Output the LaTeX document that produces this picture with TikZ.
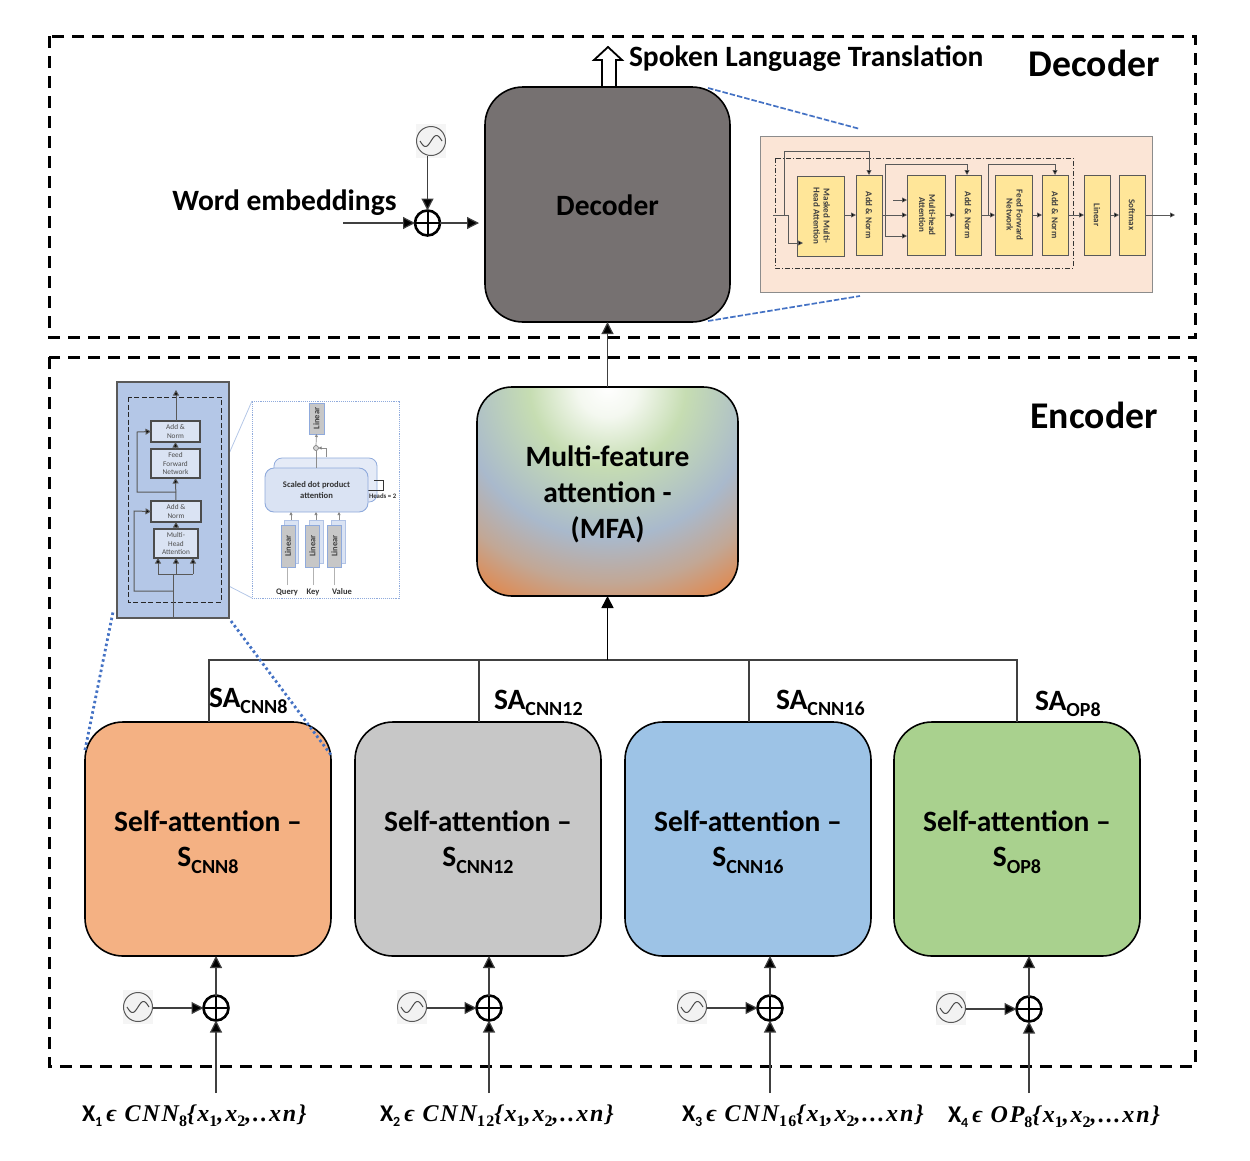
\documentclass[tikz,border=0pt]{standalone}
\usepackage{fontspec}
\setmainfont{Carlito}
\newfontfamily\mathbi{Liberation Serif}[BoldFont={* Bold},ItalicFont={* Italic},BoldItalicFont={* Bold Italic},LetterSpace=8]
\usetikzlibrary{arrows.meta,positioning,calc}
\definecolor{decgray}{HTML}{767171}
\definecolor{orangebox}{HTML}{F4B183}
\definecolor{graybox}{HTML}{C7C7C7}
\definecolor{bluebox}{HTML}{9DC3E6}
\definecolor{greenbox}{HTML}{A9D18E}
\definecolor{peach}{HTML}{FBE5D6}
\definecolor{yellowblk}{HTML}{FFE699}
\definecolor{encblue}{HTML}{B4C7E7}
\definecolor{paleblue}{HTML}{DAE3F3}
\definecolor{midblue}{HTML}{8FAADC}
\definecolor{linkblue}{HTML}{4472C4}
\definecolor{mfaA}{HTML}{F4F8F0}
\definecolor{mfaB}{HTML}{C6DDB2}
\definecolor{mfaC}{HTML}{A9B9CC}
\definecolor{mfaD}{HTML}{C2A795}
\definecolor{mfaE}{HTML}{DF8A52}
\pgfdeclareradialshading{mfashade}{\pgfpoint{0bp}{0bp}}{%
 rgb(0bp)=(1,1,1);
 color(2.5bp)=(mfaA);
 color(6.5bp)=(mfaB);
 color(12.5bp)=(mfaC);
 color(16.3bp)=(mfaD);
 color(19.5bp)=(mfaE);
 color(50bp)=(mfaE)}
\newcommand{\lowtxt}[1]{\raisebox{-0.22em}{\fontsize{20}{20}\selectfont #1}}
\newcommand{\mathlabel}[3]{{\bfseries #1\raisebox{-0.2em}{\fontsize{14}{14}\selectfont #2}\,}{\mathbi\bfseries\itshape #3}}
\newcommand{\lowm}[1]{\raisebox{-0.22em}{\fontsize{16}{16}\selectfont\upshape #1}}
\tikzset{
 x=1pt,y=-1pt,
 every node/.style={inner sep=0pt,outer sep=0pt,align=center},
 frame/.style={draw=black,line width=3pt,dash pattern=on 12pt off 8pt},
 bigbox/.style={draw=black,line width=1.6pt,rounded corners=38pt,minimum width=246pt,minimum height=234pt},
 boxtext/.style={font=\fontsize{29.5}{35}\selectfont\bfseries},
 conn/.style={draw=black!75,line width=1.2pt},
 arr/.style={conn,-{Triangle[length=12pt,width=12pt,fill=black]}},
 oplusn/.style={circle,draw=black,line width=2.6pt,minimum size=25pt,path picture={
   \draw[line width=2pt] (path picture bounding box.north)--(path picture bounding box.south)
     (path picture bounding box.west)--(path picture bounding box.east);}},
 sinen/.style={circle,draw=black!65,line width=1pt,fill=white!95!black,minimum size=29pt,path picture={
   \draw[black!70,line width=1pt,shift={(path picture bounding box.center)}]
     plot[domain=-11:11,samples=31,smooth] ({\x},{-5.5*sin(\x*180/11)});}},
 title/.style={font=\fontsize{29.5}{34}\selectfont\bfseries},
 bigtitle/.style={font=\fontsize{37.7}{42}\selectfont\bfseries},
 mathtxt/.style={font=\fontsize{24}{26}\selectfont},
 yblk/.style={draw=black!65,line width=1pt,fill=yellowblk,minimum height=80pt,font=\fontsize{9}{10}\selectfont\bfseries\color{black!75}},
 yconn/.style={draw=black!65,line width=.8pt},
 yarr/.style={yconn,-{Triangle[length=5pt,width=5pt,fill=black]}},
 eblk/.style={draw=black!70,line width=1.3pt,fill=paleblue,font=\fontsize{7.3}{8.3}\selectfont\color{black!70}},
 econn/.style={draw=black!65,line width=1pt},
 earr/.style={econn,-{Triangle[length=5.5pt,width=6pt,fill=black]}},
 linblk/.style={draw=midblue,line width=.8pt,fill=black!22,font=\fontsize{8.5}{9}\selectfont\bfseries\color{black!75}},
 linback/.style={draw=midblue!70,line width=.7pt,fill=paleblue},
 smallarr/.style={draw=black!45,line width=.7pt,-{Triangle[length=3pt,width=3pt,fill=black]}},
 grayline/.style={draw=black!30,line width=.8pt},
 smalllab/.style={font=\fontsize{8.5}{9}\selectfont\bfseries\color{black!80}},
 dotleader/.style={draw=linkblue,line width=2.8pt,dash pattern=on 2.5pt off 2.8pt},
 dashleader/.style={draw=linkblue,line width=1.7pt,dash pattern=on 5.5pt off 2pt},
}
\begin{document}
\begin{tikzpicture}
\useasboundingbox (0,0) rectangle (1250,1160);
% frames
\draw[frame] (49,36) rectangle (1195.5,337);
\draw[frame] (49,357) rectangle (1195.5,1066);
% titles
\node[bigtitle] (tdec) at (1094,63.5) {Decoder};
\node[bigtitle] (tenc) at (1094,415) {Encoder};
\node[title,anchor=west] (tspoken) at (629,59) {Spoken Language Translation};
\node[title] (tword) at (284.5,203) {Word embeddings};

% main boxes
\node[bigbox,fill=decgray,minimum width=245pt,minimum height=235pt] (dec) at (607.5,204.5) {};
\node[boxtext] (dect) at (607.5,205) {Decoder};
\begin{scope}
 \clip[rounded corners=35pt] (477,387) rectangle (738,596);
 \shade[shading=mfashade] (607.5,387) circle (300);
\end{scope}
\node[bigbox,minimum width=261pt,minimum height=209pt,rounded corners=35pt] (mfa) at (607.5,491.5) {};
\node[boxtext,font=\fontsize{29.5}{36}\selectfont\bfseries] (mfat) at (607.5,494) {Multi-feature\\attention -\\(MFA)};
\node[bigbox,fill=orangebox] (s1) at (208,839) {};
\node[bigbox,fill=graybox] (s2) at (478,839) {};
\node[bigbox,fill=bluebox] (s3) at (748,839) {};
\node[bigbox,fill=greenbox] (s4) at (1017,839) {};
\node[boxtext] (s1t) at (208,842) {Self-attention –\\S\lowtxt{CNN8}};
\node[boxtext] (s2t) at (478,842) {Self-attention –\\S\lowtxt{CNN12}};
\node[boxtext] (s3t) at (748,842) {Self-attention –\\S\lowtxt{CNN16}};
\node[boxtext] (s4t) at (1017,842) {Self-attention –\\S\lowtxt{OP8}};

% hollow output arrow
\draw[line width=1.8pt,fill=white,line join=miter] (602,87)--(602,60)--(594,60)--(608,47)--(622,60)--(616,60)--(616,87)--cycle;

% decoder input
\coordinate (winA) at (343,223);
\fill[black!4] (416,124) rectangle (446,158);
\node[sinen] (sd) at (431,141) {};
\node[oplusn] (od) at (427.5,223) {};
\draw[arr] (winA)--(od.west);
\draw[arr] (sd.south-|od.north)--(od.north);
\draw[arr] (od.east)--(479,223);

% decoder to MFA
\draw[arr] (mfa.north)--(dec.south);

% bus
\coordinate (busL) at (209,660);
\coordinate (busR) at (1017,660);
\draw[conn] (s1.north-|busL)--(busL)--(busR)--(s4.north-|busR);
\coordinate (bus2) at (479,660);
\coordinate (bus3) at (749,660);
\draw[conn] (bus2)--(bus2|-s2.north);
\draw[conn] (bus3)--(bus3|-s3.north);
\coordinate (busC) at (607.5,660);
\draw[arr,draw=black,line width=1.6pt] (busC)--(mfa.south);

% SA labels
\node[title,anchor=west] (sa1) at (209,701) {SA\lowtxt{CNN8}};
\node[title,anchor=west] (sa2) at (494,703) {SA\lowtxt{CNN12}};
\node[title,anchor=west] (sa3) at (776,703) {SA\lowtxt{CNN16}};
\node[title,anchor=west] (sa4) at (1035,704) {SA\lowtxt{OP8}};

% encoder inputs
\foreach \nm/\ox/\oy/\sx/\sy/\tgt in {1/216/1008/138/1007/s1,2/489/1008/412/1007/s2,3/770/1008/692/1007/s3,4/1029/1009/951/1008/s4}{
  \fill[black!4] (\sx-15,\sy-17) rectangle (\sx+15,\sy+17);
  \node[sinen] (se\nm) at (\sx,\sy) {};
  \node[oplusn] (oe\nm) at (\ox,\oy) {};
  \coordinate (ine\nm) at (\ox,1093);
  \draw[arr] (ine\nm)--(oe\nm.south);
  \draw[arr] (se\nm.east|-oe\nm.west)--(oe\nm.west);
  \draw[arr] (oe\nm.north)--(oe\nm.north|-\tgt.south);
}

% input labels
\node[mathtxt,anchor=west] (x1) at (82,1116) {\mathlabel{X}{1}{ϵ CNN\lowm{8}\{x\lowm{1},x\lowm{2},..xn\}}};
\node[mathtxt,anchor=west] (x2) at (380,1116) {\mathlabel{X}{2}{ϵ CNN\lowm{12}\{x\lowm{1},x\lowm{2},..xn\}}};
\node[mathtxt,anchor=west] (x3) at (682,1116) {\mathlabel{X}{3}{ϵ CNN\lowm{16}\{x\lowm{1},x\lowm{2},...xn\}}};
\node[mathtxt,anchor=west] (x4) at (948,1117) {\mathlabel{X}{4}{ϵ OP\lowm{8}\{x\lowm{1},x\lowm{2},...xn\}}};

% decoder inset
\node[draw=black!45,line width=1pt,fill=peach,minimum width=392pt,minimum height=156pt] (dinset) at (956,214) {};
\draw[black!80,line width=.9pt,dash pattern=on 5pt off 2pt on 1pt off 2pt] (775,158) rectangle (1073,268);
\node[yblk,minimum width=47pt] (dm) at (820.5,216) {\rotatebox{-90}{\begin{tabular}{@{}c@{}}Masked Multi-\\Head Attention\end{tabular}}};
\node[yblk,minimum width=26pt] (da1) at (869,215) {\rotatebox{-90}{Add \& Norm}};
\node[yblk,minimum width=38pt] (dh) at (926,215) {\rotatebox{-90}{\begin{tabular}{@{}c@{}}Multi-head\\Attention\end{tabular}}};
\node[yblk,minimum width=26pt] (da2) at (968,215) {\rotatebox{-90}{Add \& Norm}};
\node[yblk,minimum width=37pt] (df) at (1013.5,215) {\rotatebox{-90}{\begin{tabular}{@{}c@{}}Feed Forward\\Network\end{tabular}}};
\node[yblk,minimum width=26pt] (da3) at (1055,215) {\rotatebox{-90}{Add \& Norm}};
\node[yblk,minimum width=26pt] (dl) at (1097,215) {\rotatebox{-90}{Linear}};
\node[yblk,minimum width=26pt] (ds) at (1132,215) {\rotatebox{-90}{Softmax}};
\coordinate (din) at (773,215);
\coordinate (dj1) at (784,215);
\coordinate (dj2) at (788,215);
\coordinate (dout) at (1175,215);
\coordinate (dj3) at (885,215);
\coordinate (dj4) at (988,215);
\draw[yconn] (din)--(dj2);
\draw[yarr] (dj2)--(788,243)--(803,243);
\draw[yarr] (dj1)--(784,151)--(869,151)--(da1.north);
\draw[yarr] (dm.east|-da1.west)--(da1.west);
\draw[yarr] (da1.east)--(dh.west);
\draw[yarr] (dj3)--(885,164)--(967,164)--(967,175);
\draw[yarr] (dj3)--(885,236)--(907,236);
\draw[yarr] (893,200)--(907,200);
\draw[yarr] (dh.east)--(da2.west);
\draw[yarr] (da2.east)--(df.west);
\draw[yarr] (dj4)--(988,164)--(1055,164)--(da3.north);
\draw[yarr] (df.east)--(da3.west);
\draw[yarr] (da3.east)--(dl.west);
\draw[yarr] (dl.east)--(ds.west);
\draw[yarr] (ds.east)--(dout);
% decoder zoom leaders
\draw[dashleader] (708,88)--(860,129);
\draw[dashleader] (708,321)--(860,296);

% encoder inset leaders (behind)
\draw[encblue,line width=.8pt] (197,527)--(252,401);
\draw[encblue,line width=.8pt] (188,565)--(252,598);
% encoder inset
\node[draw=black!65,line width=1.2pt,fill=encblue,minimum width=112pt,minimum height=236pt] (einset) at (173,500) {};
\draw[black!85,line width=.9pt,dash pattern=on 5pt off 2.5pt] (128,397) rectangle (221,602);
\node[eblk,minimum width=49pt,minimum height=21pt] (ea1) at (175.5,431.5) {Add \&\\Norm};
\node[eblk,minimum width=49pt,minimum height=29pt] (ef) at (175.5,463.5) {Feed\\Forward\\Network};
\node[eblk,minimum width=50pt,minimum height=21pt] (ea2) at (176,511.5) {Add \&\\Norm};
\node[eblk,minimum width=44pt,minimum height=29pt] (em) at (176,543.5) {Multi-\\Head\\Attention};
\coordinate (eout) at (176,390);
\coordinate (ein) at (173,618);
\coordinate (ej1) at (173,574);
\coordinate (ej2) at (173,591);
\coordinate (ej3) at (176,492);
\draw[earr] (ea1.north-|eout)--(eout);
\draw[earr] (ef.north)--(ea1.south);
\draw[earr] (ea2.north)--(ef.south);
\draw[earr] (em.north)--(ea2.south);
\draw[econn] (ein)--(ej1);
\draw[earr] (158,574)--(158,558);
\draw[earr] (176,574)--(176,558);
\draw[earr] (193,574)--(193,558);
\draw[econn] (158,574)--(193,574);
\draw[earr] (ej2)--(134,591)--(134,511)--(ea2.west);
\draw[earr] (ej3)--(137,492)--(137,432)--(ea1.west);
% encoder inset dotted leaders
\draw[dotleader] (85,750)--(113,612);
\draw[dotleader] (231,621)--(331,755);

% attention inset
\node[draw=midblue,line width=.9pt,densely dotted,fill=white,minimum width=147pt,minimum height=197pt] (ainset) at (325.5,499.5) {};
\node[draw=midblue,line width=.8pt,fill=paleblue!70,rounded corners=8pt,minimum width=103pt,minimum height=44pt] (aback) at (325.5,480) {};
\draw[black!80,line width=.9pt] (367,490)--(383,490)--(383,480)--(374,480);
\node[draw=midblue,line width=.9pt,fill=paleblue,rounded corners=9pt,minimum width=103pt,minimum height=44pt,font=\fontsize{8.6}{10.5}\selectfont\bfseries\color{black!80}] (afront) at (316.5,490) {Scaled dot product\\attention};
\node[font=\fontsize{6.8}{7}\selectfont\bfseries\color{black!80},anchor=west] (aheads) at (369,496) {Heads = 2};
\node[linblk,minimum width=15pt,minimum height=31pt] (alin) at (316.5,418.5) {\rotatebox{90}{Linear}};
\node[circle,draw=black!50,line width=.7pt,fill=black!15,minimum size=5pt] (aplus) at (316,448) {};
\draw[smallarr] (aplus.north)--(alin.south);
\draw[grayline,draw=black!45] (afront.north-|aplus)--(aplus.south);
\draw[smallarr] (326,457)--(326,448)--(aplus.east);
\foreach \nm/\fx/\tx/\qx/\lab/\lx in {q/288/291/287/Query/287,k/312.5/316/313/Key/313,v/334.5/339/334/Value/342}{
  \node[linback,minimum width=14pt,minimum height=43pt] (b\nm) at (\fx+3.5,541.5) {};
  \node[linblk,minimum width=14pt,minimum height=42pt] (f\nm) at (\fx,546) {\rotatebox{90}{Linear}};
  \node[smalllab] (l\nm) at (\lx,592) {\lab};
  \coordinate (in\nm) at (\qx,585);
  \draw[grayline] (in\nm)--(in\nm|-f\nm.south);
  \draw[smallarr] (\tx,520)--(\tx,512);
}
\end{tikzpicture}
\end{document}
